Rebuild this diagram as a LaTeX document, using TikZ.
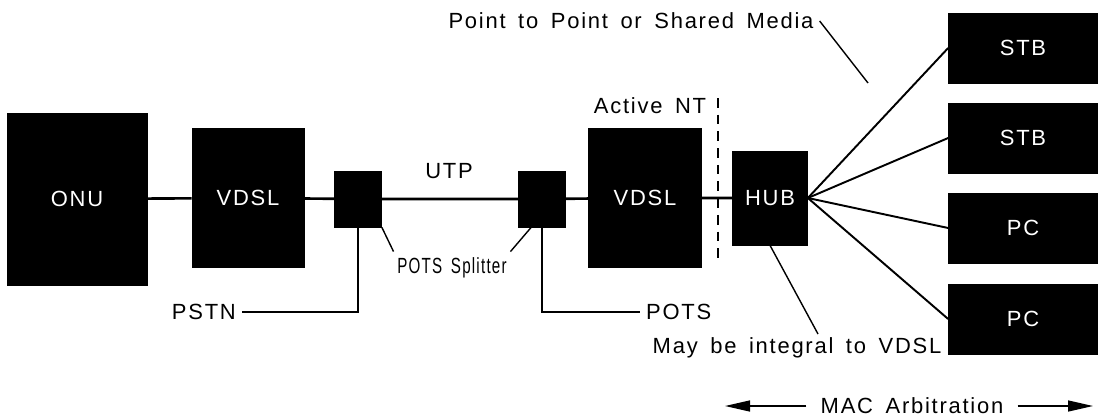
\documentclass[tikz,border=0pt]{standalone}
\usepackage{fontspec}
\setmainfont{Liberation Sans}[LetterSpace=8,WordSpace=1.6]
\usetikzlibrary{arrows.meta, positioning}

\begin{document}
\begin{tikzpicture}[x=0.02cm, y=-0.02cm, font=\fontsize{12.5}{15}\selectfont,
  blk/.style={draw, fill=black, text=white, rectangle, inner sep=0pt},
  wire/.style={line width=1.5pt},
  lead/.style={line width=0.8pt},
  fan/.style={line width=1.1pt}]
\useasboundingbox (0,0) rectangle (1104,419);

% Main chain of boxes
\node[blk, minimum width=2.8cm, minimum height=3.44cm] (onu) at (77,199) {ONU};
\node[blk, minimum width=2.24cm, minimum height=2.78cm] (vdslA) at (248,198) {VDSL};
\node[blk, minimum width=0.94cm, minimum height=1.12cm] (splitA) at (358,199) {};
\node[blk, minimum width=0.94cm, minimum height=1.12cm] (splitB) at (542,199) {};
\node[blk, minimum width=2.26cm, minimum height=2.78cm] (vdslB) at (645,198) {VDSL};
\node[blk, minimum width=1.5cm, minimum height=1.88cm] (hub) at (770,198) {HUB};

% Terminal equipment
\node[blk, minimum width=2.98cm, minimum height=1.4cm] (stbA) at (1023,48) {STB};
\node[blk, minimum width=2.98cm, minimum height=1.4cm] (stbB) at (1023,138) {STB};
\node[blk, minimum width=2.98cm, minimum height=1.4cm] (pcA) at (1023,228) {PC};
\node[blk, minimum width=2.98cm, minimum height=1.4cm] (pcB) at (1023,319) {PC};

% Line through the chain
\draw[wire] (onu) -- (vdslA) -- (splitA) -- (splitB) -- (vdslB) -- (hub);
\node (utp) at (449,171) {UTP};

% Hub to terminals
\foreach \t in {stbA,stbB,pcA,pcB}
  \draw[fan] (hub.east) -- (\t.west);

% Splitter drops
\node[anchor=east] (pstn) at (242,312) {PSTN};
\node[anchor=west] (pots) at (640,312) {POTS};
\draw[lead] (splitA.south) |- (pstn.east);
\draw[lead] (splitB.south) |- (pots.west);

% Splitter label
\node[inner xsep=2pt] (potsspl) at (452,268) {\scalebox{0.69}[1]{POTS Splitter}};
\draw[lead] (splitA.south east) -- (potsspl.north west);
\draw[lead] (splitB.south west) ++(13,0) -- (potsspl.north east);

% Active NT boundary
\node (activent) at (650,106) {Active NT};
\coordinate (ntTop) at (718,98);
\coordinate (ntBot) at (718,260);
\draw[lead, dash pattern=on 5.5pt off 4pt] (ntTop) -- (ntBot);

% Media note
\node (p2p) at (631,21) {Point to Point or Shared Media};
\coordinate (p2pEnd) at (868,83);
\draw[lead] (p2p.east) -- (p2pEnd);

% Hub note
\node (may) at (797,348) {May be integral to VDSL};
\coordinate (mayTop) at (818,334);
\draw[lead] (hub.south) -- (mayTop);

% MAC arbitration span
\node[inner xsep=8pt] (mac) at (912,406) {MAC Arbitration};
\coordinate (macL) at (725,406);
\coordinate (macR) at (1093,406);
\draw[lead, -{Triangle[length=0.5cm, width=0.22cm]}] (mac) -- (macL);
\draw[lead, -{Triangle[length=0.5cm, width=0.22cm]}] (mac) -- (macR);

\end{tikzpicture}
\end{document}
